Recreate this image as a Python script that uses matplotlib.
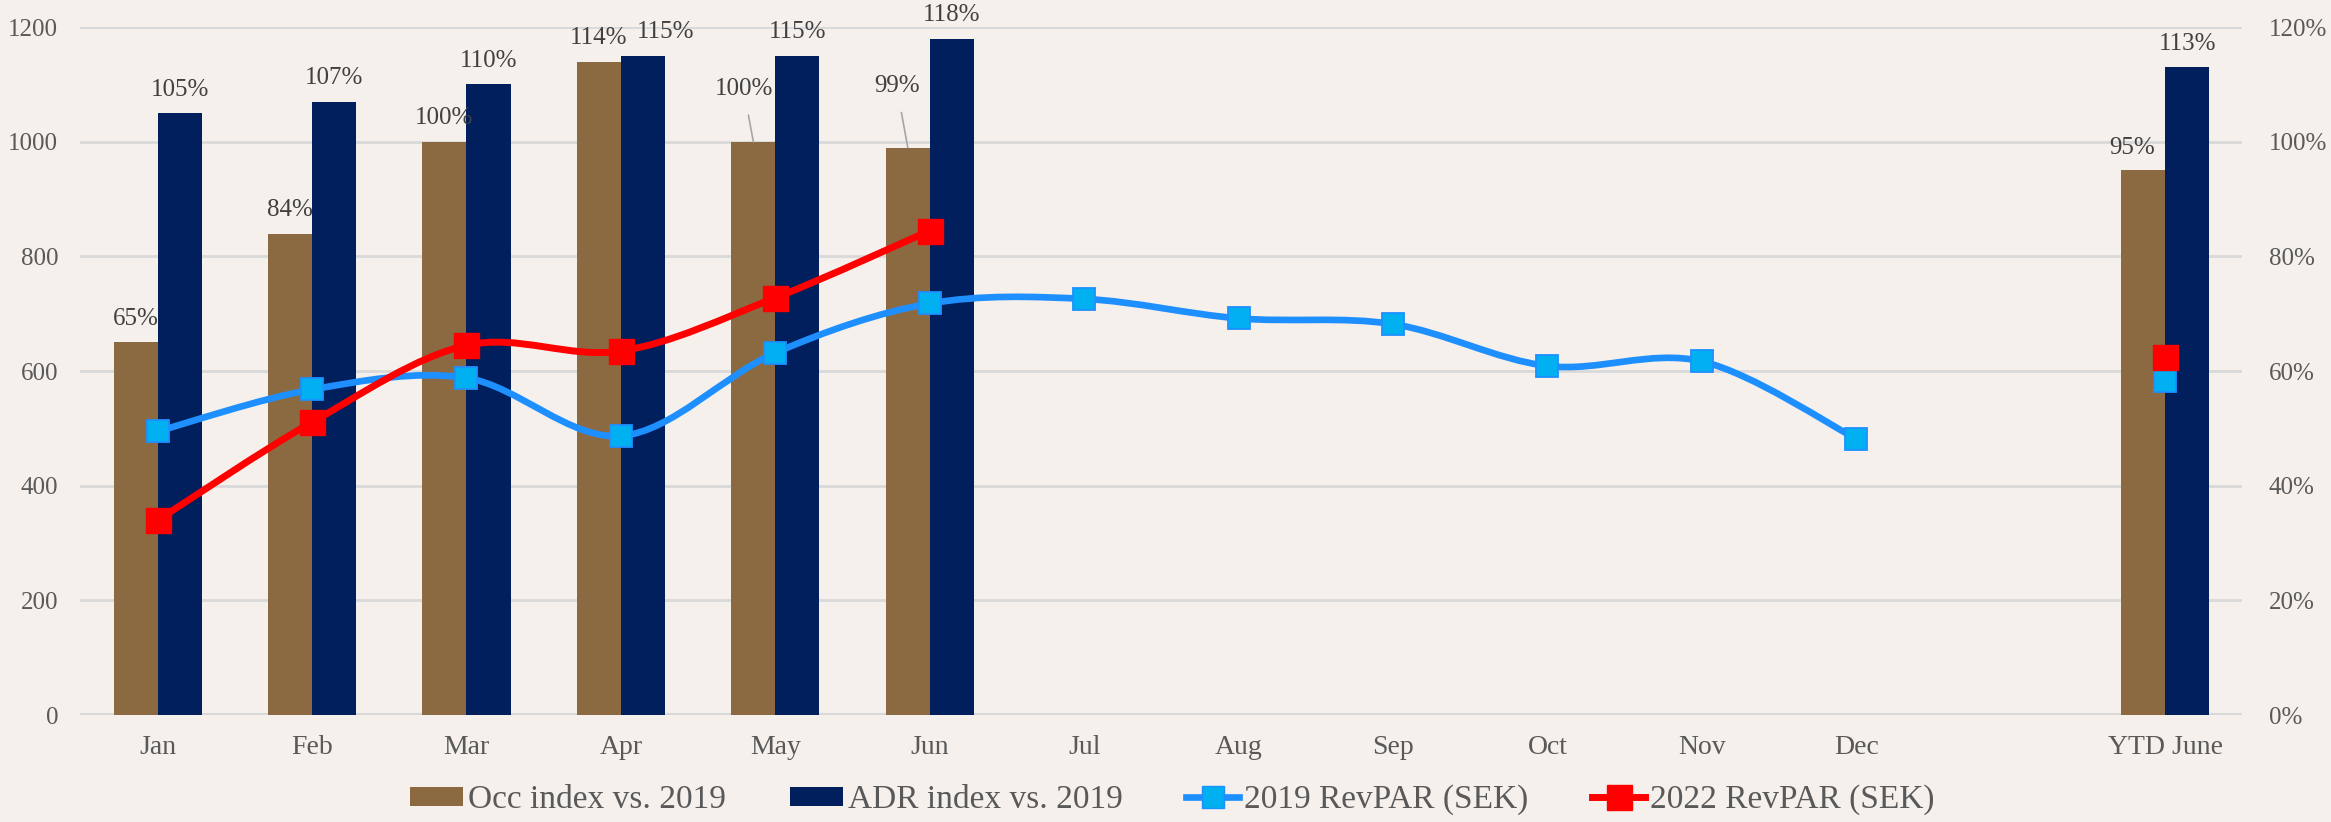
# Hotel KPIs: occupancy / ADR index bars vs. 2019 and RevPAR lines
import numpy as np
import matplotlib.pyplot as plt
from matplotlib.path import Path
from matplotlib.patches import PathPatch, Patch
from matplotlib.lines import Line2D
from matplotlib.ticker import FuncFormatter

nan = np.nan

# Categories (one empty slot before YTD June)
categories = ['Jan', 'Feb', 'Mar', 'Apr', 'May', 'Jun', 'Jul', 'Aug', 'Sep',
              'Oct', 'Nov', 'Dec', '', 'YTD June']

# Bars (right axis, share of 2019)
occ_index = [0.65, 0.84, 1.00, 1.14, 1.00, 0.99, nan, nan, nan, nan, nan, nan, nan, 0.95]
adr_index = [1.05, 1.07, 1.10, 1.15, 1.15, 1.18, nan, nan, nan, nan, nan, nan, nan, 1.13]

# Lines (left axis, SEK)
revpar_2019 = [495, 568, 588, 487, 632, 718, 726, 692, 682, 609, 617, 482, nan, 583]
revpar_2022 = [340, 511, 645, 635, 728, 845, nan, nan, nan, nan, nan, nan, nan, 625]

# Colours
bg = '#F5F0EC'
c_occ = '#8B6A42'
c_adr = '#001F5C'
c_2019 = '#1E8FFF'
c_2019_fill = '#00B0F0'
c_2022 = '#FF0000'
grid_c = '#D9D9D9'
txt_c = '#595959'
lab_c = '#404040'

plt.rcParams['font.family'] = ['Liberation Serif', 'DejaVu Serif']


def smooth_path(xs, ys):
    # excel-like smoothed line through the points (cubic bezier segments)
    pts = np.column_stack([xs, ys]).astype(float)
    n = len(pts)
    verts = [pts[0]]
    codes = [Path.MOVETO]
    for i in range(n - 1):
        p0 = pts[i - 1] if i > 0 else pts[i]
        p1 = pts[i]
        p2 = pts[i + 1]
        p3 = pts[i + 2] if i + 2 < n else pts[i + 1]
        verts += [p1 + (p2 - p0) / 6, p2 - (p3 - p1) / 6, p2]
        codes += [Path.CURVE4] * 3
    return Path(verts, codes)


fig, ax = plt.subplots(figsize=(23.31, 8.22), dpi=100)
fig.patch.set_facecolor(bg)
ax.set_facecolor(bg)
fig.subplots_adjust(left=0.0345, right=0.962, top=0.967, bottom=0.130)

x = np.arange(len(categories))
w = 0.285

# twin axes for the lines (left ticks); bars stay on the main axes (right ticks)
ax2 = ax.twinx()

ax.bar(x - w / 2, occ_index, w, color=c_occ, zorder=2)
ax.bar(x + w / 2, adr_index, w, color=c_adr, zorder=2)
ax.set_ylim(0, 1.2)
ax.set_xlim(-0.5, len(categories) - 0.5)
ax.set_yticks(np.arange(0, 1.21, 0.2))
ax.yaxis.set_major_formatter(FuncFormatter(lambda v, p: f'{v * 100:.0f}%'))
ax.yaxis.tick_right()
ax.grid(axis='y', color=grid_c, lw=2, zorder=0)
ax.set_axisbelow(True)
tick_pos = [i for i, c in enumerate(categories) if c]
ax.set_xticks(tick_pos)
ax.set_xticklabels([categories[i] for i in tick_pos])
ax.tick_params(axis='x', length=0, pad=14, labelsize=20, labelcolor=txt_c)
ax.tick_params(axis='y', length=0, pad=19, labelsize=18, labelcolor=txt_c)
for s in ax.spines.values():
    s.set_visible(False)
ax.axhline(0, color=grid_c, lw=3, zorder=1)

# data labels
occ_off = {4: (-7, 38), 5: (-8, 44), 13: (-8, 16)}
adr_off = {3: (16, 17)}
for i in range(len(categories)):
    if not np.isnan(occ_index[i]):
        dx, dy = occ_off.get(i, (0, 17))
        arrow = dict(arrowstyle='-', color='#A6A6A6', lw=1.2, shrinkA=9, shrinkB=0) if i in (4, 5) else None
        ax.annotate(f'{occ_index[i] * 100:.0f}%', (x[i] - w / 2, occ_index[i]),
                    xytext=(dx, dy), textcoords='offset points', ha='center', va='center',
                    fontsize=18, color=lab_c, arrowprops=arrow, zorder=5)
    if not np.isnan(adr_index[i]):
        dx, dy = adr_off.get(i, (0, 17))
        ax.annotate(f'{adr_index[i] * 100:.0f}%', (x[i] + w / 2, adr_index[i]),
                    xytext=(dx, dy), textcoords='offset points', ha='center', va='center',
                    fontsize=18, color=lab_c, zorder=5)

ax2.yaxis.tick_left()
ax2.set_ylim(0, 1200)
ax2.set_yticks(range(0, 1201, 200))
ax2.tick_params(axis='y', length=0, pad=16, labelsize=18, labelcolor=txt_c)
for s in ax2.spines.values():
    s.set_visible(False)

r19 = np.array(revpar_2019, dtype=float)
r22 = np.array(revpar_2022, dtype=float)
ax2.add_patch(PathPatch(smooth_path(x[:12], r19[:12]), fill=False, edgecolor=c_2019,
                        lw=4.8, capstyle='round', zorder=3))
ax2.add_patch(PathPatch(smooth_path(x[:6], r22[:6]), fill=False, edgecolor=c_2022,
                        lw=5, capstyle='round', zorder=4))
ax2.plot(x, r19, ls='none', marker='s', ms=15.5, mfc=c_2019_fill, mec=c_2019, mew=1.3, zorder=5)
ax2.plot(x, r22, ls='none', marker='s', ms=18, mfc=c_2022, mec=c_2022, mew=1, zorder=6)

handles = [Patch(facecolor=c_occ), Patch(facecolor=c_adr),
           Line2D([], [], color=c_2019, lw=4.8, marker='s', ms=15.5, mfc=c_2019_fill, mec=c_2019),
           Line2D([], [], color=c_2022, lw=5, marker='s', ms=18, mfc=c_2022, mec=c_2022)]
labels = ['Occ index vs. 2019', 'ADR index vs. 2019', '2019 RevPAR (SEK)', '2022 RevPAR (SEK)']
leg = fig.legend(handles, labels, loc='center', bbox_to_anchor=(0.503, 0.027), ncol=4,
                 frameon=False, fontsize=24, handlelength=1.6, handleheight=0.5,
                 handletextpad=0.15, columnspacing=1.9, labelcolor=txt_c)

fig.savefig('out.png', dpi=100, facecolor=bg)
